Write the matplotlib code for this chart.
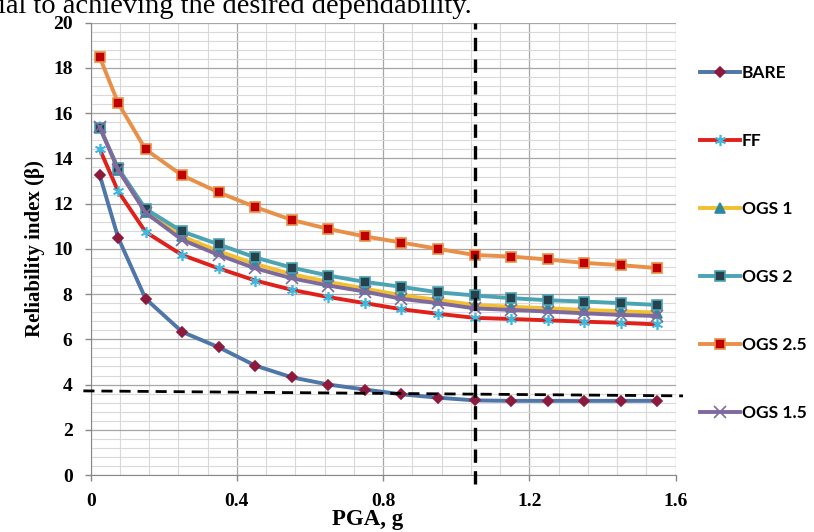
import matplotlib.pyplot as plt
from matplotlib.ticker import MultipleLocator

# PGA values (g)
pga = [0.025, 0.075, 0.15, 0.25, 0.35, 0.45, 0.55, 0.65, 0.75, 0.85,
       0.95, 1.05, 1.15, 1.25, 1.35, 1.45, 1.55]

bare = [13.25, 10.5, 7.8, 6.33, 5.65, 4.84, 4.32, 4.0, 3.78, 3.57,
        3.42, 3.3, 3.28, 3.28, 3.28, 3.28, 3.28]
ff = [14.4, 12.55, 10.75, 9.73, 9.14, 8.6, 8.19, 7.87, 7.6, 7.33,
      7.13, 6.95, 6.9, 6.84, 6.78, 6.73, 6.66]
ogs1 = [15.4, 13.5, 11.65, 10.55, 9.9, 9.33, 8.88, 8.54, 8.24, 7.95,
        7.74, 7.52, 7.44, 7.37, 7.3, 7.24, 7.18]
ogs2 = [15.35, 13.57, 11.77, 10.77, 10.2, 9.62, 9.17, 8.82, 8.54, 8.32,
        8.08, 7.94, 7.82, 7.73, 7.67, 7.6, 7.52]
ogs25 = [18.47, 16.45, 14.4, 13.25, 12.5, 11.85, 11.28, 10.88, 10.55, 10.28,
         10.0, 9.73, 9.66, 9.53, 9.38, 9.28, 9.15]
ogs15 = [15.38, 13.5, 11.6, 10.4, 9.73, 9.14, 8.7, 8.38, 8.11, 7.79,
         7.6, 7.37, 7.3, 7.23, 7.15, 7.08, 7.03]

# annotation lines (target beta and chosen PGA)
target_x = [-0.02, 1.62]
target_y = [3.72, 3.5]
pga_line = 1.05

xticks = [0, 0.4, 0.8, 1.2, 1.6]
xlabels = ["0", "0.4", "0.8", "1.2", "1.6"]
yticks = list(range(0, 21, 2))

series = [
    ("BARE", bare, "#4f76a8", "D", "#8b1a3c", "#8b1a3c", 5.5),
    ("FF", ff, "#e0201b", (6, 2, 0), "#3fb8e0", "#3fb8e0", 8),
    ("OGS 1", ogs1, "#f2c02e", "^", "#2d8a9e", "#2d8a9e", 6.5),
    ("OGS 2", ogs2, "#4ba3b4", "s", "#27414d", "#4ba3b4", 7),
    ("OGS 2.5", ogs25, "#e89048", "s", "#c00000", "#e89048", 7),
    ("OGS 1.5", ogs15, "#7f6a9e", "x", "#7f6a9e", "#7f6a9e", 9),
]

fig = plt.figure(figsize=(8.14, 5.32), dpi=100)
ax = fig.add_axes([0.1114, 0.1071, 0.7187, 0.8502])

serif = "Liberation Serif"
fig.text(-0.002, 1 - 13 / 532, "ial to achieving the desired dependability.",
         fontsize=20.5, family=serif, va="baseline", ha="left")

handles = []
for name, vals, lc, mk, mfc, mec, ms in series:
    h, = ax.plot(pga, vals, color=lc, linewidth=2.8, marker=mk, markersize=ms,
                 markerfacecolor=mfc, markeredgecolor=mec, markeredgewidth=1.2,
                 label=name, zorder=3)
    handles.append(h)

ax.plot(target_x, target_y, color="black", linestyle=(0, (4, 2.5)),
        linewidth=2, clip_on=False, zorder=4)
ax.plot([pga_line, pga_line], [-0.4, 20], color="black", linestyle=(0, (4, 2.5)),
        linewidth=2.4, clip_on=False, zorder=4)

ax.set_xlim(0, 1.6)
ax.set_ylim(0, 20)
ax.set_xticks(xticks)
ax.set_xticklabels(xlabels)
ax.set_yticks(yticks)
ax.xaxis.set_minor_locator(MultipleLocator(0.08))
ax.yaxis.set_minor_locator(MultipleLocator(0.4))
ax.grid(True, which="major", color="#a6a6a6", linewidth=0.9)
ax.grid(True, which="minor", color="#d9d9d9", linewidth=0.8)
ax.set_axisbelow(True)
ax.tick_params(which="minor", length=0)
ax.tick_params(which="major", length=4, color="#888888", width=1, pad=9,
               labelsize=14)
for lab in ax.get_xticklabels() + ax.get_yticklabels():
    lab.set_family(serif)
    lab.set_fontweight("bold")
    lab.set_fontsize(14)
for s in ["top", "right"]:
    ax.spines[s].set_visible(False)
for s in ["left", "bottom"]:
    ax.spines[s].set_color("#888888")

ax.set_xlabel("PGA, g", family=serif, fontweight="bold", fontsize=16.5)
ax.xaxis.set_label_coords(0.474, -0.075)
ax.set_ylabel("Reliability index (β)", family=serif, fontweight="bold",
              fontsize=15, labelpad=6)

fig.legend(handles=handles, loc="upper left", bbox_to_anchor=(0.86, 0.878),
           frameon=False, borderpad=0, borderaxespad=0, handlelength=2.3,
           handletextpad=0.12, labelspacing=3.0,
           prop={"family": "Lato", "weight": "bold", "size": 12.5})

fig.savefig("out.png", dpi=100)
